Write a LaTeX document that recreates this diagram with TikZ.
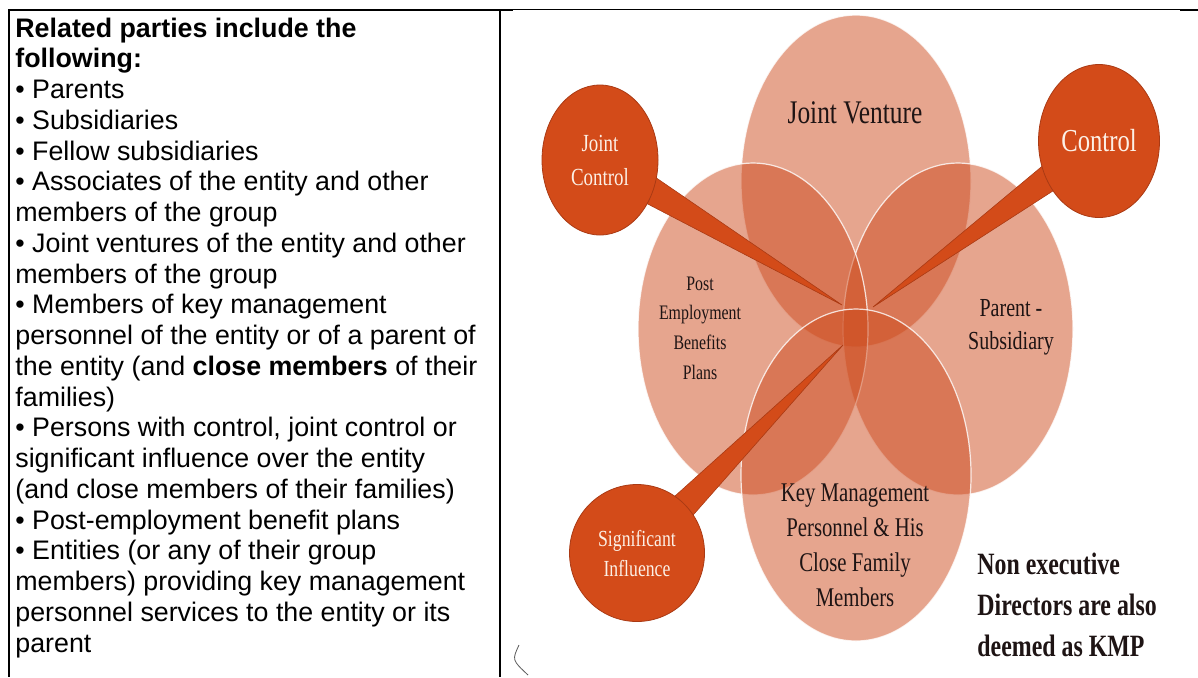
\documentclass[tikz,border=0pt]{standalone}
\usepackage{fontspec}
\setmainfont{Liberation Sans}
\newfontfamily\vennfont[FakeStretch=0.77]{Liberation Serif}
\usetikzlibrary{shapes.geometric, calc, positioning}

\definecolor{vennfill}{RGB}{205,75,30}
\definecolor{callfill}{RGB}{211,75,25}
\definecolor{calledge}{RGB}{170,58,20}
\definecolor{calltext}{RGB}{252,240,230}
\definecolor{venntext}{RGB}{30,20,20}

\tikzset{
  petal/.style={ellipse, draw=white, line width=0.6pt, draw opacity=0.8,
    fill=vennfill, fill opacity=0.5, inner sep=0pt,
    minimum width=115pt, minimum height=166pt},
  bubble/.style={ellipse, fill=callfill, draw=calledge, line width=0.4pt,
    inner sep=0pt, text=calltext, align=center},
  tail/.style={fill=callfill, draw=calledge, line width=0.3pt},
  petallabel/.style={text=venntext, align=center, inner sep=0pt},
  row/.style={anchor=base west, inner sep=0pt, font=\fontsize{13.4}{15.5}\selectfont},
}

\begin{document}
\begin{tikzpicture}[x=0.5pt, y=-0.5pt]
  \useasboundingbox (0,0) rectangle (1198,677);

  % Table frame
  \draw [line width=1pt] (8,10) -- (513,10);
  \draw [line width=0.5pt] (513,9) -- (1180,9);
  \draw [line width=1pt] (1180,10) -- (1198,10);
  \draw [line width=1pt] (8.5,9) -- (8.5,677);
  \draw [line width=1pt] (500,10) -- (500,677);
  \draw [gray!70!black, line width=0.4pt] (519,645) .. controls (512,660) .. (528,675);

  % Left cell
  \foreach \txt [count=\i from 0] in {
    {\textbf{Related parties include the}},
    {\textbf{following:}},
    {• Parents},
    {• Subsidiaries},
    {• Fellow subsidiaries},
    {• Associates of the entity and other},
    {members of the group},
    {• Joint ventures of the entity and other},
    {members of the group},
    {• Members of key management},
    {personnel of the entity or of a parent of},
    {the entity (and \textbf{close members} of their},
    {families)},
    {• Persons with control, joint control or},
    {significant influence over the entity},
    {(and close members of their families)},
    {• Post-employment benefit plans},
    {• Entities (or any of their group},
    {members) providing key management},
    {personnel services to the entity or its},
    {parent}}
    \node [row] (line\i) at (15, {37+30.75*\i}) {\txt};

  % Petals
  \node [petal] (jv) at (856,181) {};
  \node [petal] (ps) at (958,329) {};
  \node [petal] (pebp) at (753,329) {};
  \node [petal] (kmp) at (856,475) {};

  % Petal labels
  \node [petallabel, font=\vennfont\fontsize{16.5}{18}\selectfont] (jvtext) at (855,113) {Joint Venture};
  \node [petallabel, font=\vennfont\fontsize{10.3}{14.8}\selectfont] (pebptext) at (700,328)
    {Post\\Employment\\Benefits\\Plans};
  \node [petallabel, font=\vennfont\fontsize{13}{16.5}\selectfont] (pstext) at (1011,327)
    {Parent -\\Subsidiary};
  \node [petallabel, font=\vennfont\fontsize{13.5}{17.5}\selectfont] (kmptext) at (855,545)
    {Key Management\\Personnel \& His\\Close Family\\Members};
  \node [petallabel, align=left, anchor=west, font=\vennfont\bfseries\fontsize{15.5}{20.5}\selectfont]
    (kmpnote) at (977,605) {Non executive\\Directors are also\\deemed as KMP};

  % Callout tails
  \coordinate (jcc) at (600,160);
  \coordinate (ctc) at (1099,141);
  \coordinate (sic) at (637,553);
  \coordinate (jctip) at (842,305);
  \coordinate (cttip) at (873,307);
  \coordinate (sitip) at (843,345);
  \filldraw [tail] ($(jcc)!8.5pt!90:(jctip)$) -- (jctip) -- ($(jcc)!8.5pt!-90:(jctip)$) -- cycle;
  \filldraw [tail] ($(ctc)!8.5pt!90:(cttip)$) -- (cttip) -- ($(ctc)!8.5pt!-90:(cttip)$) -- cycle;
  \filldraw [tail] ($(sic)!8.5pt!90:(sitip)$) -- (sitip) -- ($(sic)!8.5pt!-90:(sitip)$) -- cycle;

  % Callouts
  \node [bubble, minimum width=58pt, minimum height=75pt, font=\vennfont\fontsize{12.3}{17}\selectfont]
    (jc) at (jcc) {Joint\\Control};
  \node [bubble, minimum width=60.5pt, minimum height=76.5pt, font=\vennfont\fontsize{16}{18}\selectfont]
    (ct) at (ctc) {Control};
  \node [bubble, minimum width=67.5pt, minimum height=68.5pt, font=\vennfont\fontsize{11.5}{15}\selectfont]
    (si) at (sic) {Significant\\Influence};
\end{tikzpicture}
\end{document}
